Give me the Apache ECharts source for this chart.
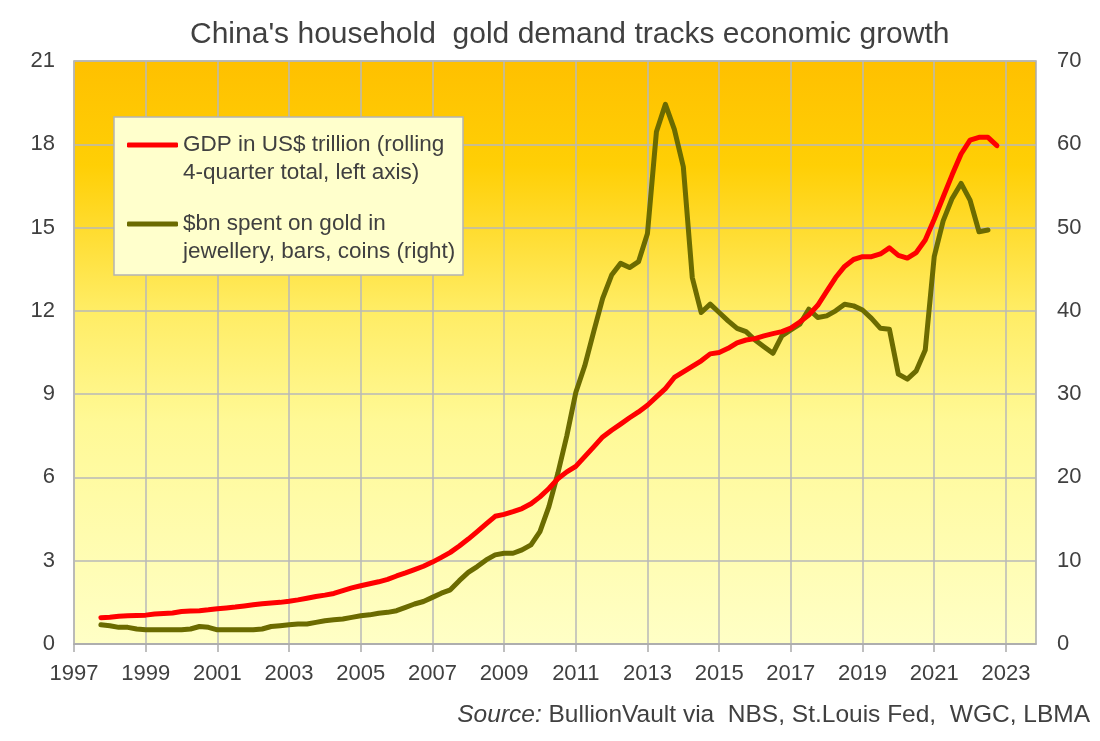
<!DOCTYPE html>
<html>
<head>
<meta charset="utf-8">
<script src="https://cdn.jsdelivr.net/npm/echarts@6/dist/echarts.min.js"></script>
<style>
html,body{margin:0;padding:0;background:#fff;}
#chart{width:1100px;height:741px;}
</style>
</head>
<body>
<div id="chart"></div>
<script>
// Quarterly time points (decimal years)
const quarters = [1997.75,
  1998.00,1998.25,1998.50,1998.75, 1999.00,1999.25,1999.50,1999.75,
  2000.00,2000.25,2000.50,2000.75, 2001.00,2001.25,2001.50,2001.75,
  2002.00,2002.25,2002.50,2002.75, 2003.00,2003.25,2003.50,2003.75,
  2004.00,2004.25,2004.50,2004.75, 2005.00,2005.25,2005.50,2005.75,
  2006.00,2006.25,2006.50,2006.75, 2007.00,2007.25,2007.50,2007.75,
  2008.00,2008.25,2008.50,2008.75, 2009.00,2009.25,2009.50,2009.75,
  2010.00,2010.25,2010.50,2010.75, 2011.00,2011.25,2011.50,2011.75,
  2012.00,2012.25,2012.50,2012.75, 2013.00,2013.25,2013.50,2013.75,
  2014.00,2014.25,2014.50,2014.75, 2015.00,2015.25,2015.50,2015.75,
  2016.00,2016.25,2016.50,2016.75, 2017.00,2017.25,2017.50,2017.75,
  2018.00,2018.25,2018.50,2018.75, 2019.00,2019.25,2019.50,2019.75,
  2020.00,2020.25,2020.50,2020.75, 2021.00,2021.25,2021.50,2021.75,
  2022.00,2022.25,2022.50,2022.75];

// GDP in US$ trillion (rolling 4-quarter total), left axis
const gdp = [0.95,
  0.96,1.00,1.02,1.03, 1.04,1.08,1.10,1.12,
  1.17,1.19,1.20,1.23, 1.27,1.30,1.33,1.37,
  1.41,1.45,1.48,1.50, 1.54,1.59,1.65,1.71,
  1.76,1.82,1.92,2.02, 2.10,2.17,2.24,2.33,
  2.45,2.56,2.68,2.80, 2.95,3.12,3.30,3.53,
  3.78,4.05,4.33,4.60, 4.67,4.77,4.88,5.05,
  5.30,5.60,5.95,6.20, 6.40,6.75,7.10,7.46,
  7.70,7.92,8.15,8.36, 8.60,8.90,9.20,9.60,
  9.80,10.00,10.20,10.45, 10.50,10.65,10.85,10.95,
  11.00,11.10,11.18,11.25, 11.38,11.60,11.85,12.20,
  12.70,13.20,13.60,13.85, 13.95,13.95,14.05,14.27,
  14.00,13.90,14.10,14.55, 15.30,16.10,16.90,17.65,
  18.15,18.25,18.25,17.95];

// $bn spent on gold in jewellery, bars, coins, right axis
const gold = [2.3,
  2.2,2.0,2.0,1.8, 1.7,1.7,1.7,1.7,
  1.7,1.8,2.1,2.0, 1.7,1.7,1.7,1.7,
  1.7,1.8,2.1,2.2, 2.3,2.4,2.4,2.6,
  2.8,2.9,3.0,3.2, 3.4,3.5,3.7,3.8,
  4.0,4.4,4.8,5.1, 5.6,6.1,6.5,7.6,
  8.6,9.3,10.1,10.7, 10.9,10.9,11.3,11.9,
  13.5,16.5,20.5,25.0, 30.2,33.4,37.5,41.5,
  44.3,45.7,45.2,45.9, 49.3,61.5,64.8,61.8,
  57.3,44.0,39.8,40.8, 39.8,38.8,37.9,37.5,
  36.5,35.7,34.9,37.0, 37.7,38.4,40.2,39.2,
  39.4,40.0,40.8,40.6, 40.1,39.1,37.9,37.8,
  32.4,31.8,32.8,35.3, 46.5,50.8,53.5,55.3,
  53.3,49.5,49.7];

const yearTicks = [1997,1999,2001,2003,2005,2007,2009,2011,2013,2015,2017,2019,2021,2023];
const leftTicks = [0,3,6,9,12,15,18,21];
const rightTicks = [0,10,20,30,40,50,60,70];

const titleText = "China's household  gold demand tracks economic growth";
const gdpName = 'GDP in US$ trillion (rolling\n4-quarter total, left axis)';
const goldName = '$bn spent on gold in\njewellery, bars, coins (right)';

const FONT = '"Liberation Sans", Arial, sans-serif';
const TXT = '#404040';

const chart = echarts.init(document.getElementById('chart'), null, {renderer: 'canvas'});

const legendText = {
  fontFamily: FONT, fontSize: 22.5, color: TXT, lineHeight: 28
};
// blank first line so the line sample sits beside the first text line
const legendFormatter = name => ' \n' + name;

chart.setOption({
  animation: false,
  textStyle: {fontFamily: FONT, color: TXT},
  title: [{
    text: titleText,
    left: 190, top: 20, padding: 0,
    textStyle: {fontFamily: FONT, fontSize: 30, fontWeight: 'normal', color: TXT}
  }, {
    text: '{i|Source:} BullionVault via  NBS, St.Louis Fed,  WGC, LBMA',
    right: 10, top: 703, padding: 0,
    textStyle: {
      fontFamily: FONT, fontSize: 24.5, fontWeight: 'normal', color: TXT,
      rich: {i: {fontFamily: FONT, fontSize: 24.5, fontStyle: 'italic', color: TXT}}
    }
  }],
  grid: {
    left: 74, right: 64, top: 61, bottom: 97,
    show: true,
    borderColor: '#aaaaaa', borderWidth: 1.5,
    backgroundColor: {
      type: 'linear', x: 0, y: 0, x2: 0, y2: 1,
      colorStops: [
        {offset: 0, color: '#ffc000'},
        {offset: 0.18, color: '#ffcf05'},
        {offset: 0.42, color: '#ffec62'},
        {offset: 0.62, color: '#fff996'},
        {offset: 1, color: '#ffffc6'}
      ]
    }
  },
  graphic: [{
    type: 'rect', z: 50,
    shape: {x: 114, y: 117, width: 349, height: 158},
    style: {fill: '#ffffcc', stroke: '#b4b4b4', lineWidth: 1.5}
  }],
  legend: [{
    data: [gdpName], orient: 'vertical', left: 127, top: 103, padding: 0,
    itemWidth: 51, itemHeight: 5, icon: 'roundRect', z: 60,
    formatter: legendFormatter, textStyle: legendText
  }, {
    data: [goldName], orient: 'vertical', left: 127, top: 182, padding: 0,
    itemWidth: 51, itemHeight: 5, icon: 'roundRect', z: 60,
    formatter: legendFormatter, textStyle: legendText
  }],
  xAxis: {
    type: 'value', min: 1997, max: 2023.84, interval: 2,
    axisLine: {show: true, lineStyle: {color: '#aaaaaa', width: 1.5}},
    axisTick: {show: true, length: 8, lineStyle: {color: '#aaaaaa', width: 1.5}, customValues: yearTicks},
    axisLabel: {
      customValues: yearTicks, margin: 19,
      fontFamily: FONT, fontSize: 22, color: TXT,
      formatter: v => (Number.isInteger(v) ? String(v) : '')
    },
    splitLine: {show: true, lineStyle: {color: '#b8b8b8', width: 1.5}}
  },
  yAxis: [{
    type: 'value', min: 0, max: 21, interval: 3, position: 'left',
    axisLine: {show: false}, axisTick: {show: false},
    axisLabel: {margin: 19, fontFamily: FONT, fontSize: 22, color: TXT},
    splitLine: {show: true, lineStyle: {color: '#b8b8b8', width: 1.5}}
  }, {
    type: 'value', min: 0, max: 70, interval: 10, position: 'right',
    axisLine: {show: false}, axisTick: {show: false},
    axisLabel: {margin: 21, fontFamily: FONT, fontSize: 22, color: TXT},
    splitLine: {show: false}
  }],
  series: [{
    name: gdpName, type: 'line', yAxisIndex: 0,
    data: quarters.map((q, i) => [q, gdp[i]]),
    showSymbol: false, symbol: 'none', z: 4,
    lineStyle: {color: '#ff0000', width: 5, cap: 'round', join: 'round'},
    itemStyle: {color: '#ff0000'}
  }, {
    name: goldName, type: 'line', yAxisIndex: 1,
    data: gold.map((g, i) => [quarters[i], g]),
    showSymbol: false, symbol: 'none', z: 3,
    lineStyle: {color: '#6b6b00', width: 5, cap: 'round', join: 'round'},
    itemStyle: {color: '#6b6b00'}
  }]
});
</script>
</body>
</html>
